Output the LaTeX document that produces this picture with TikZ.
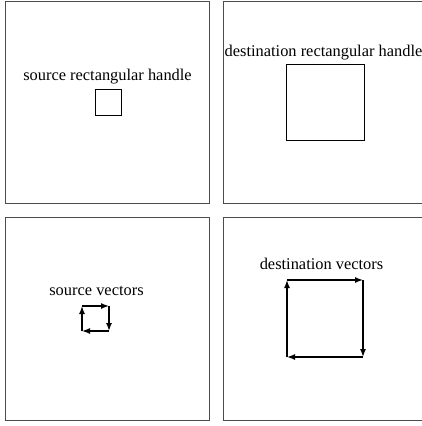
\documentclass[tikz,border=0pt]{standalone}
\usepackage{fontspec}
\setmainfont{Liberation Serif}
\usetikzlibrary{arrows.meta}

\begin{document}
\begin{tikzpicture}[
    x=1pt, y=-1pt,
    panel/.style={draw=black!70, line width=0.6pt},
    handle/.style={draw, line width=0.6pt},
    caption/.style={font=\fontsize{16.4}{18}\selectfont, anchor=base, inner sep=0pt},
    vec/.style={-{Latex[length=8pt, width=6pt]}, line width=1.4pt}
]
\useasboundingbox (0,0) rectangle (422,426);
\clip (0,0) rectangle (422,426);
% Panels
\draw[panel] (5,1) rectangle (209,203);
\draw[panel] (223,1) rectangle (440,203);
\draw[panel] (5,217) rectangle (209,420);
\draw[panel] (223,217) rectangle (440,420);

% Rectangular handles
\node[caption] (srclabel) at (107.5,80) {source rectangular handle};
\draw[handle] (95,89) rectangle (121,115);
\node[caption] (dstlabel) at (323.5,56) {destination rectangular handle};
\draw[handle] (286,64) rectangle (364,140);

% Source vectors
\node[caption] (srcvlabel) at (96.5,295) {source vectors};
\coordinate (s1) at (82,306);
\coordinate (s2) at (109,306);
\coordinate (s3) at (109,331);
\coordinate (s4) at (82,331);
\draw[vec] (s1) -- (s2);
\draw[vec] (s2) -- (s3);
\draw[vec] (s3) -- (s4);
\draw[vec] (s4) -- (s1);

% Destination vectors
\node[caption] (dstvlabel) at (321.5,269) {destination vectors};
\coordinate (d1) at (287,280);
\coordinate (d2) at (363,280);
\coordinate (d3) at (363,357);
\coordinate (d4) at (287,357);
\draw[vec] (d1) -- (d2);
\draw[vec] (d2) -- (d3);
\draw[vec] (d3) -- (d4);
\draw[vec] (d4) -- (d1);
\end{tikzpicture}
\end{document}
